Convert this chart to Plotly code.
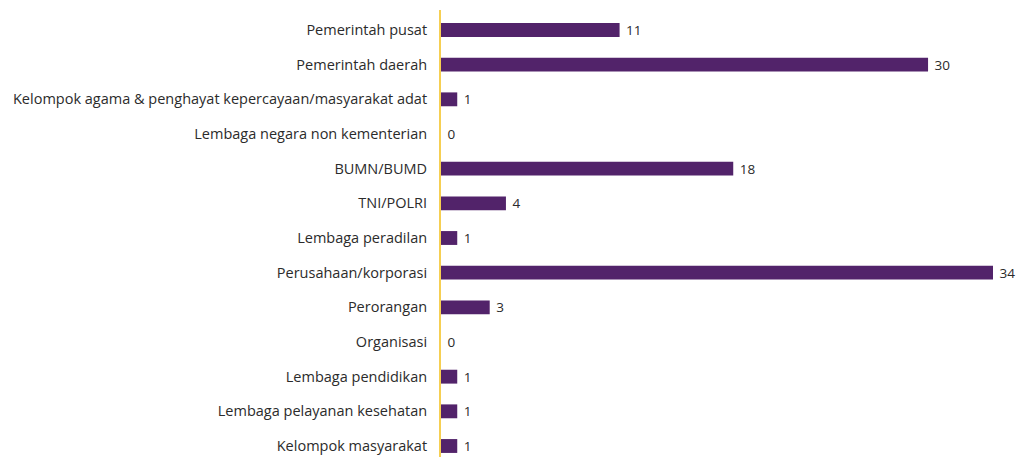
import plotly.graph_objects as go

categories = [
    "Pemerintah pusat",
    "Pemerintah daerah",
    "Kelompok agama & penghayat kepercayaan/masyarakat adat",
    "Lembaga negara non kementerian",
    "BUMN/BUMD",
    "TNI/POLRI",
    "Lembaga peradilan",
    "Perusahaan/korporasi",
    "Perorangan",
    "Organisasi",
    "Lembaga pendidikan",
    "Lembaga pelayanan kesehatan",
    "Kelompok masyarakat",
]
values = [11, 30, 1, 0, 18, 4, 1, 34, 3, 0, 1, 1, 1]

W, H = 1016, 457
L, R, T, B = 441, 8, 10, 0
px_per_unit = 552 / 34
row_px = 416 / 12

fig = go.Figure(
    go.Bar(
        x=values,
        y=list(range(len(categories))),
        orientation="h",
        marker=dict(color="#52236a", line=dict(width=0)),
        width=0.4,
        text=["\u00a0" + str(v) for v in values],
        textposition="outside",
        constraintext="none",
        textfont=dict(family="Open Sans", size=13.5, color="#2b2b2b"),
        cliponaxis=False,
        hoverinfo="skip",
    )
)

x_max = (W - L - R) / px_per_unit
top_idx = -(30 - T) / row_px
bot_idx = 12 + (H - B - 446) / row_px

fig.update_layout(
    width=W,
    height=H,
    margin=dict(l=L, r=R, t=T, b=B, pad=0, autoexpand=False),
    paper_bgcolor="white",
    plot_bgcolor="white",
    showlegend=False,
    font=dict(family="Open Sans", size=14.5, color="#2b2b2b"),
    xaxis=dict(range=[0, x_max], showgrid=False, zeroline=False, showticklabels=False, showline=False),
    yaxis=dict(
        range=[bot_idx, top_idx],
        tickmode="array",
        tickvals=list(range(len(categories))),
        ticktext=categories,
        showgrid=False,
        zeroline=False,
        showline=True,
        linecolor="#f6cf52",
        linewidth=2,
        ticks="",
        ticklabelstandoff=9,
        automargin=False,
    ),
)

fig.write_html(
    "out.html",
    config={"displayModeBar": False},
    post_script="document.body.style.margin='0';document.body.style.overflow='hidden';",
)
